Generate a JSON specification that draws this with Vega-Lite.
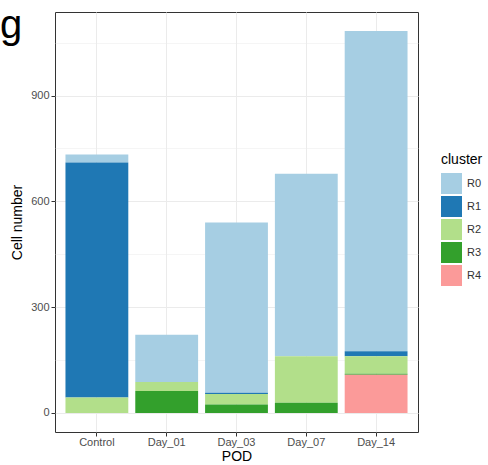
{
  "$schema": "https://vega.github.io/schema/vega-lite/v6.json",
  "width": 363,
  "height": 420,
  "autosize": {"type": "none"},
  "padding": {"left": 55, "top": 12, "right": 70, "bottom": 33},
  "background": "white",
  "title": {
    "text": "g",
    "anchor": "start",
    "frame": "group",
    "fontSize": 40,
    "font": "Liberation Sans",
    "fontWeight": "normal",
    "color": "black",
    "dx": -55,
    "dy": 66,
    "offset": 0,
    "baseline": "alphabetic"
  },
  "config": {
    "font": "Liberation Sans",
    "view": {"stroke": "#333333", "strokeWidth": 1}
  },
  "data": {
    "values": [
      {"POD": "Control", "cluster": "R0", "n": 23},
      {"POD": "Control", "cluster": "R1", "n": 666},
      {"POD": "Control", "cluster": "R2", "n": 44},
      {"POD": "Control", "cluster": "R3", "n": 0},
      {"POD": "Control", "cluster": "R4", "n": 0},
      {"POD": "Day_01", "cluster": "R0", "n": 134},
      {"POD": "Day_01", "cluster": "R1", "n": 0},
      {"POD": "Day_01", "cluster": "R2", "n": 26},
      {"POD": "Day_01", "cluster": "R3", "n": 62},
      {"POD": "Day_01", "cluster": "R4", "n": 0},
      {"POD": "Day_03", "cluster": "R0", "n": 483},
      {"POD": "Day_03", "cluster": "R1", "n": 3},
      {"POD": "Day_03", "cluster": "R2", "n": 30},
      {"POD": "Day_03", "cluster": "R3", "n": 24},
      {"POD": "Day_03", "cluster": "R4", "n": 0},
      {"POD": "Day_07", "cluster": "R0", "n": 517},
      {"POD": "Day_07", "cluster": "R1", "n": 0},
      {"POD": "Day_07", "cluster": "R2", "n": 132},
      {"POD": "Day_07", "cluster": "R3", "n": 29},
      {"POD": "Day_07", "cluster": "R4", "n": 0},
      {"POD": "Day_14", "cluster": "R0", "n": 908},
      {"POD": "Day_14", "cluster": "R1", "n": 14},
      {"POD": "Day_14", "cluster": "R2", "n": 50},
      {"POD": "Day_14", "cluster": "R3", "n": 3},
      {"POD": "Day_14", "cluster": "R4", "n": 108}
    ]
  },
  "mark": {"type": "bar", "strokeWidth": 0},
  "encoding": {
    "x": {
      "field": "POD",
      "type": "nominal",
      "scale": {"paddingInner": 0.1, "paddingOuter": 0.15},
      "axis": {
        "title": "POD",
        "titleFontSize": 14,
        "titleFontWeight": "normal",
        "titleColor": "black",
        "titlePadding": 2,
        "labelAngle": 0,
        "labelFontSize": 11,
        "labelColor": "#4D4D4D",
        "labelPadding": 0,
        "tickColor": "#333333",
        "tickSize": 4,
        "domain": false,
        "grid": true,
        "gridColor": "#EBEBEB",
        "gridWidth": 1,
        "bandPosition": 0.5
      }
    },
    "y": {
      "field": "n",
      "type": "quantitative",
      "stack": "zero",
      "scale": {"domain": [-54, 1137], "nice": false, "zero": false},
      "axis": {
        "title": "Cell number",
        "titleFontSize": 14,
        "titleFontWeight": "normal",
        "titleColor": "black",
        "titlePadding": 6,
        "values": [0, 150, 300, 450, 600, 750, 900, 1050],
        "labelExpr": "datum.value % 300 == 0 ? datum.label : ''",
        "labelFontSize": 11,
        "labelColor": "#4D4D4D",
        "labelPadding": 2,
        "tickColor": "#333333",
        "tickSize": 4,
        "tickOpacity": {"condition": {"test": "datum.value % 300 != 0", "value": 0}, "value": 1},
        "domain": false,
        "grid": true,
        "gridColor": "#EBEBEB",
        "gridWidth": {"condition": {"test": "datum.value % 300 != 0", "value": 0.5}, "value": 1}
      }
    },
    "color": {
      "field": "cluster",
      "type": "nominal",
      "scale": {
        "domain": ["R0", "R1", "R2", "R3", "R4"],
        "range": ["#A6CEE3", "#1F78B4", "#B2DF8A", "#33A02C", "#FB9A99"]
      },
      "legend": {
        "title": "cluster",
        "orient": "none",
        "legendX": 386,
        "legendY": 141,
        "titleFontSize": 14,
        "titleFontWeight": "normal",
        "titleColor": "black",
        "titlePadding": 6,
        "labelFontSize": 11,
        "labelColor": "#333333",
        "labelOffset": 5,
        "symbolType": "square",
        "symbolSize": 441,
        "symbolStrokeWidth": 0,
        "symbolOpacity": 1,
        "rowPadding": 2,
        "padding": 0
      }
    },
    "order": {"field": "cluster", "type": "nominal", "sort": "descending"}
  }
}
